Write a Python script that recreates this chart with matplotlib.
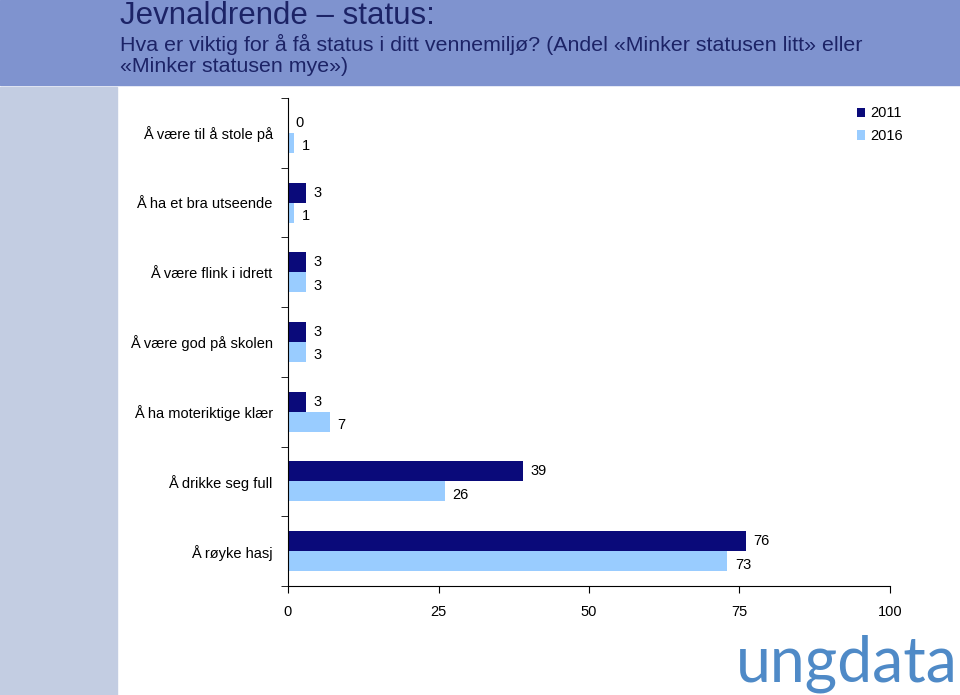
import matplotlib.pyplot as plt
import numpy as np

# data
kategorier = ["Å være til å stole på", "Å ha et bra utseende", "Å være flink i idrett",
              "Å være god på skolen", "Å ha moteriktige klær", "Å drikke seg full",
              "Å røyke hasj"]
verdier_2011 = [0, 3, 3, 3, 3, 39, 76]
verdier_2016 = [1, 1, 3, 3, 7, 26, 73]
x_ticks = [0, 25, 50, 75, 100]

plt.rcParams['font.family'] = ['Liberation Sans', 'DejaVu Sans']

fig = plt.figure(figsize=(9.6, 6.95), dpi=100)

# bakgrunn: blått topp-felt og grå-blå stripe til venstre
fig.patches.append(plt.Rectangle((0, 1 - 85 / 695), 1, 85 / 695, transform=fig.transFigure,
                                 color="#7f93cf", zorder=0))
fig.patches.append(plt.Rectangle((0, 0), 117 / 960, 1 - 87 / 695, transform=fig.transFigure,
                                 color="#c3cde2", zorder=0))

fig.text(120 / 960, 1 - 24 / 695, "Jevnaldrende – status:", fontsize=22.5, color="#1c2366",
         va="baseline", ha="left")
fig.text(120 / 960, 1 - 51 / 695,
         "Hva er viktig for å få status i ditt vennemiljø? (Andel «Minker statusen litt» eller",
         fontsize=15.4, color="#1c2366", va="baseline", ha="left")
fig.text(120 / 960, 1 - 72 / 695, "«Minker statusen mye»)", fontsize=15.4, color="#1c2366",
         va="baseline", ha="left")

ax = fig.add_axes([288 / 960, 1 - 586 / 695, 602 / 960, 488 / 695])

n = len(kategorier)
y = np.arange(n)
h = 0.286
ax.barh(y - h / 2, verdier_2011, height=h, color="#0a0a7a", label="2011")
ax.barh(y + h / 2, verdier_2016, height=h, color="#99ccff", label="2016")

for i in range(n):
    ax.text(verdier_2011[i] + 1.25, y[i] - h / 2, str(verdier_2011[i]), va="center",
            ha="left", fontsize=10.5)
    ax.text(verdier_2016[i] + 1.25, y[i] + h / 2 + 0.05, str(verdier_2016[i]), va="center",
            ha="left", fontsize=10.5)

ax.set_ylim(n - 0.5, -0.5)
ax.set_xlim(0, 100)
ax.set_xticks(x_ticks)
ax.set_xticklabels([str(t) for t in x_ticks], fontsize=10.5)
ax.tick_params(axis="x", length=5, pad=9)

ax.set_yticks(y)
ax.set_yticklabels(kategorier, fontsize=10.5)
ax.tick_params(axis="y", which="major", length=0, pad=11)
ax.set_yticks(np.arange(-0.5, n, 1), minor=True)
ax.tick_params(axis="y", which="minor", length=5)

for side in ["top", "right"]:
    ax.spines[side].set_visible(False)

leg = ax.legend(loc="upper left", bbox_to_anchor=(0.935, 0.995), frameon=False, fontsize=10.5,
                handlelength=0.6, handleheight=0.6, handletextpad=0.3, labelspacing=0.6,
                borderaxespad=0)

fig.text(0.998, 2 / 695, "ungdata", fontsize=45, color="#4f8ac7", ha="right", va="bottom",
         family=["Lato", "DejaVu Sans"])

fig.savefig("out.png", dpi=100)
